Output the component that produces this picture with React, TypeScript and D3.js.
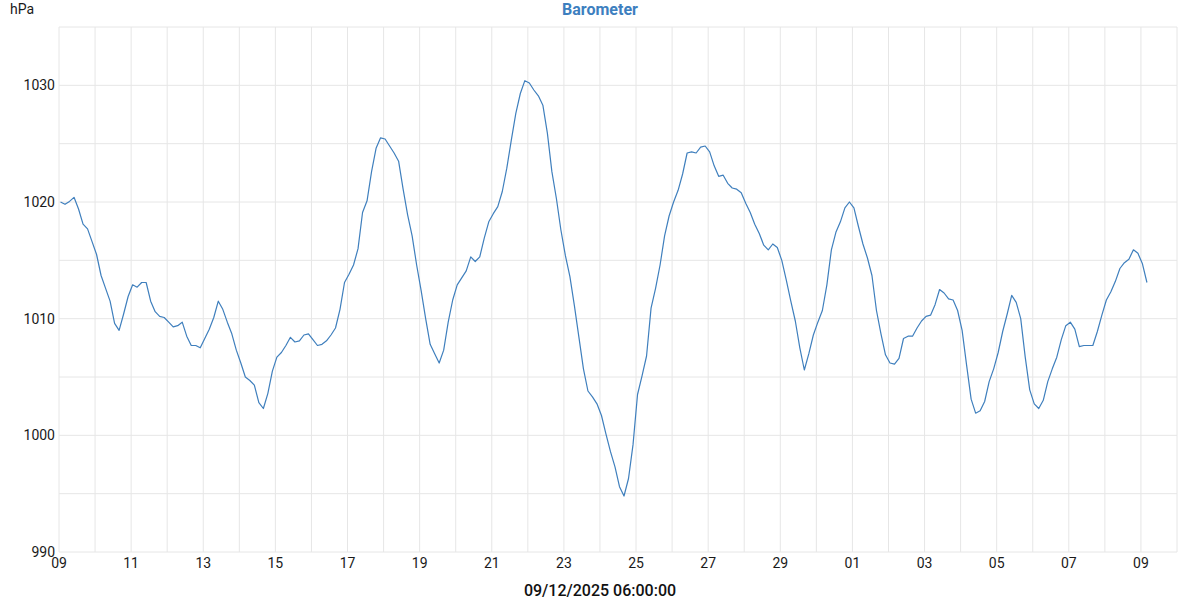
import React from "react";
import * as d3 from "d3";

const TITLE = "Barometer";
const UNIT = "hPa";
const FOOTER = "09/12/2025 06:00:00";

const START = Date.UTC(2025, 10, 9, 1, 0, 0);
const STEP_HOURS = 3;
const DOMAIN_START = Date.UTC(2025, 10, 9);
const DOMAIN_END = Date.UTC(2025, 11, 10);

const yTicks = [990, 1000, 1010, 1020, 1030];
const yGrid = [990, 995, 1000, 1005, 1010, 1015, 1020, 1025, 1030, 1035];

const pressure = [
  1020.0, 1019.8, 1020.05, 1020.4, 1019.4, 1018.1, 1017.7, 1016.6, 1015.5, 1013.7,
  1012.6, 1011.5, 1009.6, 1009.0, 1010.4, 1011.9, 1012.9, 1012.7, 1013.1, 1013.1,
  1011.5, 1010.6, 1010.2, 1010.1, 1009.7, 1009.3, 1009.4, 1009.7, 1008.5, 1007.7,
  1007.7, 1007.5, 1008.3, 1009.1, 1010.1, 1011.5, 1010.8, 1009.7, 1008.7, 1007.3,
  1006.2, 1005.0, 1004.7, 1004.3, 1002.8, 1002.3, 1003.6, 1005.5, 1006.7, 1007.1,
  1007.7, 1008.4, 1008.0, 1008.1, 1008.6, 1008.7, 1008.2, 1007.7, 1007.8, 1008.1,
  1008.6, 1009.2, 1010.8, 1013.1, 1013.8, 1014.6, 1016.0, 1019.1, 1020.1, 1022.6,
  1024.6, 1025.5, 1025.4, 1024.8, 1024.2, 1023.5, 1021.1, 1018.9, 1017.1, 1014.6,
  1012.4, 1010.0, 1007.8, 1007.0, 1006.2, 1007.3, 1009.7, 1011.6, 1012.9, 1013.5,
  1014.1, 1015.3, 1014.9, 1015.3, 1016.9, 1018.3, 1019.0, 1019.6, 1020.9, 1022.9,
  1025.3, 1027.6, 1029.3, 1030.4, 1030.2, 1029.6, 1029.1, 1028.3, 1025.9, 1022.6,
  1020.3, 1017.6, 1015.4, 1013.6, 1011.1, 1008.4, 1005.7, 1003.8, 1003.3, 1002.7,
  1001.7, 1000.1, 998.6, 997.3, 995.6, 994.8, 996.3, 999.2, 1003.5, 1005.1,
  1006.8, 1010.9, 1012.6, 1014.6, 1017.1, 1018.8, 1020.0, 1021.0, 1022.4, 1024.2,
  1024.3, 1024.2, 1024.7, 1024.8, 1024.3, 1023.1, 1022.2, 1022.3, 1021.6, 1021.2,
  1021.1, 1020.8, 1019.9, 1019.1, 1018.1, 1017.3, 1016.3, 1015.9, 1016.4, 1016.1,
  1015.0, 1013.3, 1011.5, 1009.8, 1007.5, 1005.6, 1007.0, 1008.6, 1009.7, 1010.7,
  1012.9, 1015.9, 1017.4, 1018.3, 1019.5, 1020.0, 1019.5, 1017.9, 1016.4, 1015.2,
  1013.7, 1010.7, 1008.7, 1006.9, 1006.2, 1006.1, 1006.6, 1008.3, 1008.5, 1008.5,
  1009.2, 1009.8, 1010.2, 1010.3, 1011.2, 1012.5, 1012.2, 1011.7, 1011.6, 1010.7,
  1009.0, 1006.0, 1003.1, 1001.9, 1002.1, 1002.9, 1004.6, 1005.7, 1007.1, 1008.9,
  1010.4, 1012.0, 1011.4, 1010.0, 1006.7, 1003.9, 1002.7, 1002.3, 1003.0, 1004.6,
  1005.7, 1006.7, 1008.2, 1009.4, 1009.7, 1009.1, 1007.6, 1007.7, 1007.7, 1007.7,
  1008.9, 1010.3, 1011.6, 1012.3, 1013.2, 1014.3, 1014.8, 1015.1, 1015.9, 1015.6,
  1014.7, 1013.1,
];

const W = 1200;
const H = 600;
const M = { left: 59, right: 1177, top: 27, bottom: 552 };
const FONT = "Roboto, 'Noto Sans', sans-serif";
const GRID = "#e6e6e6";
const LINE = "#3f7fbd";

export default function App() {
  const x = d3
    .scaleUtc()
    .domain([new Date(DOMAIN_START), new Date(DOMAIN_END)])
    .range([M.left, M.right]);
  const y = d3.scaleLinear().domain([990, 1035]).range([M.bottom, M.top]);

  const data = pressure.map((v, i) => ({
    t: new Date(START + i * STEP_HOURS * 3600 * 1000),
    v,
  }));

  const days = d3.utcDay.range(new Date(DOMAIN_START), new Date(DOMAIN_END + 1));
  const labelDays = days.filter((d) => d.getUTCDate() % 2 === 1 && +d < DOMAIN_END);
  const fmt = d3.utcFormat("%d");

  const line = d3
    .line<{ t: Date; v: number }>()
    .x((d) => x(d.t))
    .y((d) => y(d.v));

  return (
    <svg
      width={W}
      height={H}
      style={{ position: "absolute", left: 0, top: 0, background: "#fff" }}
      fontFamily={FONT}
    >
      <g>
        {days.map((d, i) => (
          <line
            key={"vx" + i}
            x1={x(d)}
            x2={x(d)}
            y1={M.top}
            y2={M.bottom}
            stroke={GRID}
            strokeWidth={1}
          />
        ))}
        {yGrid.map((v) => (
          <line
            key={"hy" + v}
            x1={M.left}
            x2={M.right}
            y1={y(v)}
            y2={y(v)}
            stroke={GRID}
            strokeWidth={1}
          />
        ))}
      </g>
      <path d={line(data) || ""} fill="none" stroke={LINE} strokeWidth={1.2} strokeLinejoin="round" />
      <g fontSize={14} fill="#1a1a1a">
        {yTicks.map((v) => (
          <text key={"yt" + v} x={55} y={y(v)} dy="0.35em" textAnchor="end">
            {v}
          </text>
        ))}
        {labelDays.map((d, i) => (
          <text key={"xt" + i} x={x(d)} y={568} textAnchor="middle">
            {fmt(d)}
          </text>
        ))}
      </g>
      <text x={10} y={14} fontSize={14} fill="#1a1a1a">
        {UNIT}
      </text>
      <text x={600} y={15} fontSize={16} fontWeight="bold" fill="#3d7fbf" textAnchor="middle">
        {TITLE}
      </text>
      <text x={600} y={596} fontSize={16} fontWeight={500} fill="#111" textAnchor="middle">
        {FOOTER}
      </text>
    </svg>
  );
}
